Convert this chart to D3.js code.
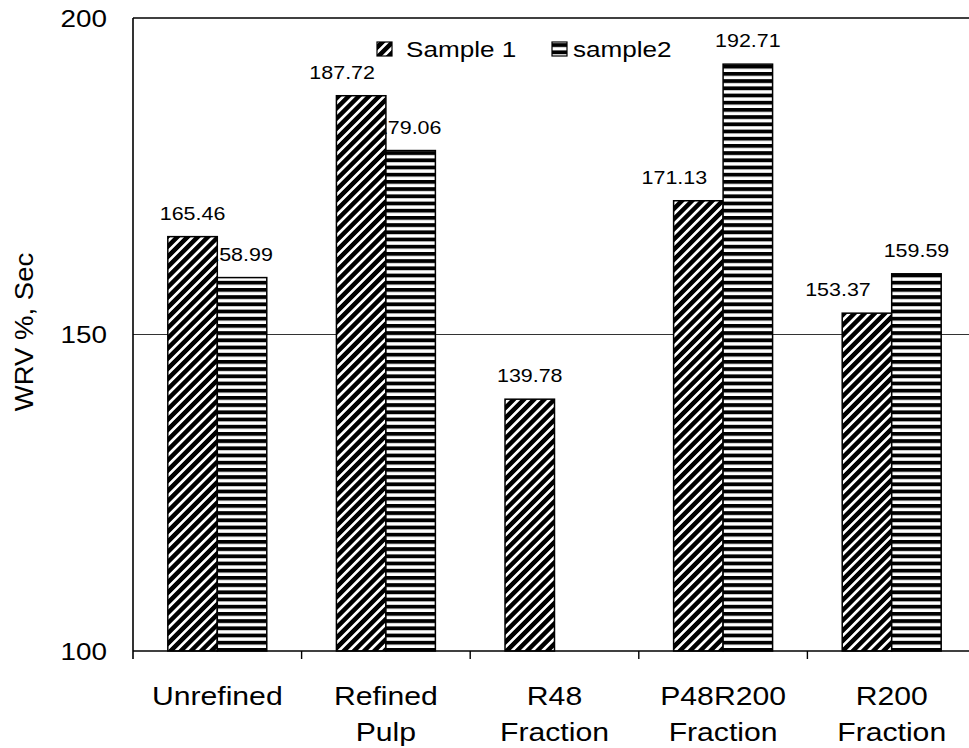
<!DOCTYPE html>
<html>
<head>
<meta charset="utf-8">
<script src="https://cdn.jsdelivr.net/npm/d3@7"></script>
<style>
  html, body { margin: 0; padding: 0; background: #fff; }
  svg { display: block; font-family: "Liberation Sans", Arial, sans-serif; }
</style>
</head>
<body>
<svg id="chart" width="969" height="748"></svg>
<script>
// WRV of unrefined / refined pulp and its fractions, two samples
const categories = [["Unrefined"], ["Refined", "Pulp"], ["R48", "Fraction"], ["P48R200", "Fraction"], ["R200", "Fraction"]];
const seriesNames = ["Sample 1", "sample2"];
const sample1 = [165.46, 187.72, 139.78, 171.13, 153.37];
const sample2 = [158.99, 179.06, null, 192.71, 159.59];
const yTicks = [100, 150, 200];
const yTitle = "WRV %, Sec";

const svg = d3.select("#chart");
const W = 969;
const plot = { left: 133, right: 976, top: 18, bottom: 651 };
const SX = 1.16; // wide-set lettering

// patterns: diagonal hatch for Sample 1, horizontal stripes for sample2
const defs = svg.append("defs");
const diag = defs.append("pattern")
  .attr("id", "hatch1").attr("patternUnits", "userSpaceOnUse")
  .attr("width", 7.2).attr("height", 7.2)
  .attr("patternTransform", "rotate(45)");
diag.append("rect").attr("width", 7.2).attr("height", 7.2).attr("fill", "#000");
diag.append("rect").attr("x", 0).attr("width", 2.7).attr("height", 7.2).attr("fill", "#fff");

const horiz = defs.append("pattern")
  .attr("id", "hatch2").attr("patternUnits", "userSpaceOnUse")
  .attr("width", 8).attr("height", 7.2);
horiz.append("rect").attr("width", 8).attr("height", 7.2).attr("fill", "#fff");
horiz.append("rect").attr("y", 0).attr("width", 8).attr("height", 3.8).attr("fill", "#000");

const fills = ["url(#hatch1)", "url(#hatch2)"];

const catKeys = categories.map(c => c.join(" "));
const x0 = d3.scaleBand().domain(catKeys).range([plot.left, plot.right]).padding(0);
const groupW = x0.bandwidth() * 0.587;
const x1 = d3.scaleBand().domain(seriesNames).range([0, groupW]).padding(0);
const y = d3.scaleLinear().domain([100, 200]).range([plot.bottom, plot.top]);
const groupX = k => x0(k) + (x0.bandwidth() - groupW) / 2;

// gridline at 150
svg.append("g").selectAll("line").data(yTicks.filter(t => t > 100 && t < 200)).join("line")
  .attr("x1", plot.left).attr("x2", W)
  .attr("y1", d => y(d)).attr("y2", d => y(d))
  .attr("stroke", "#333").attr("stroke-width", 1);

// frame top
svg.append("line").attr("x1", plot.left).attr("x2", W)
  .attr("y1", y(200)).attr("y2", y(200)).attr("stroke", "#000").attr("stroke-width", 1.6);

const rows = [];
catKeys.forEach((k, i) => {
  [sample1[i], sample2[i]].forEach((v, s) => {
    if (v != null) rows.push({ cat: k, i, s, v });
  });
});

// value labels sit beneath the bars, so a taller neighbour can overlap them
const labelShift = [[0, -2], [-19, -2], [0, 0], [-24, 0], [-29, 0]];
svg.append("g").selectAll("text").data(rows).join("text")
  .attr("transform", d => {
    const cx = groupX(d.cat) + x1(seriesNames[d.s]) + x1.bandwidth() / 2 + labelShift[d.i][d.s];
    return `translate(${cx},${y(d.v) - 17}) scale(${SX},1)`;
  })
  .attr("text-anchor", "middle")
  .attr("font-size", 18.5)
  .text(d => d.v.toFixed(2));

// bars
svg.append("g").selectAll("rect").data(rows).join("rect")
  .attr("x", d => groupX(d.cat) + x1(seriesNames[d.s]))
  .attr("y", d => y(d.v))
  .attr("width", x1.bandwidth())
  .attr("height", d => y(100) - y(d.v))
  .attr("fill", d => fills[d.s])
  .attr("stroke", "#000").attr("stroke-width", 1.5);

// y axis
const pad = 26;
const yAxis = d3.axisLeft(y).tickValues(yTicks).tickSize(0).tickPadding(pad).tickFormat(d3.format("d"));
const gy = svg.append("g").attr("transform", `translate(${plot.left},0)`).call(yAxis);
gy.select(".domain").attr("stroke", "#000").attr("stroke-width", 1.6)
  .attr("d", `M0,${y(200)}V${plot.bottom + 8}`);
gy.selectAll(".tick text")
  .attr("x", 0).attr("dy", null)
  .attr("transform", `translate(${-pad},8) scale(${SX},1)`)
  .attr("font-size", 24).attr("font-family", "Liberation Sans, Arial, sans-serif").attr("fill", "#000");

// x axis line and boundary ticks
svg.append("line").attr("x1", plot.left).attr("x2", W)
  .attr("y1", plot.bottom).attr("y2", plot.bottom).attr("stroke", "#000").attr("stroke-width", 1.6);
const bounds = catKeys.slice(1).map(k => x0(k));
svg.append("g").selectAll("line").data(bounds).join("line")
  .attr("x1", d => d).attr("x2", d => d)
  .attr("y1", plot.bottom).attr("y2", plot.bottom + 8)
  .attr("stroke", "#000").attr("stroke-width", 1.4);

// category labels
const cl = svg.append("g").selectAll("text").data(categories).join("text")
  .attr("text-anchor", "middle")
  .attr("font-size", 26)
  .attr("transform", (d, i) => `translate(${x0(catKeys[i]) + x0.bandwidth() / 2},705) scale(${SX},1)`);
cl.selectAll("tspan").data(d => d).join("tspan")
  .attr("x", 0)
  .attr("dy", (d, j) => j === 0 ? 0 : 36)
  .text(d => d);

// y title
svg.append("text")
  .attr("transform", `translate(33,332) rotate(-90) scale(1.1,1)`)
  .attr("text-anchor", "middle")
  .attr("font-size", 25)
  .text(yTitle);

// legend
const legSwatch = [377, 552];
const legText = [406, 573];
seriesNames.forEach((n, i) => {
  svg.append("rect").attr("x", legSwatch[i]).attr("y", 42).attr("width", 15).attr("height", 14)
    .attr("fill", fills[i]).attr("stroke", "#000").attr("stroke-width", 1.2);
  svg.append("text").attr("transform", `translate(${legText[i]},57) scale(${SX},1)`)
    .attr("font-size", 22.5).text(n);
});
</script>
</body>
</html>
